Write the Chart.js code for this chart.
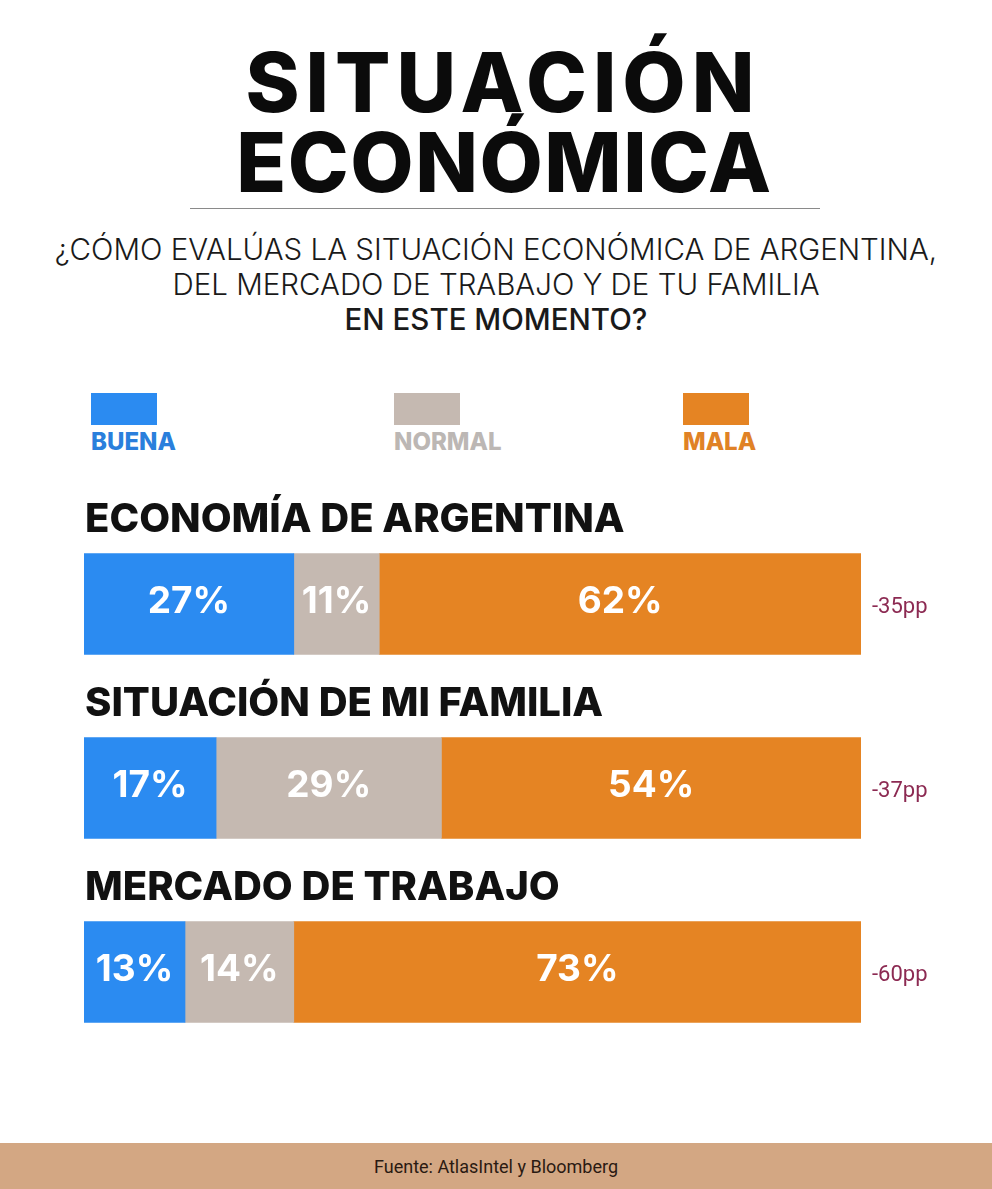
<!DOCTYPE html>
<html lang="es">
<head>
<meta charset="utf-8">
<script src="https://cdn.jsdelivr.net/npm/chart.js@4.4.1/dist/chart.umd.min.js"></script>
<style>
  html, body { margin: 0; padding: 0; background: #ffffff; }
  body { width: 992px; height: 1189px; position: relative; overflow: hidden; font-family: Inter, "Open Sans", sans-serif; }
  .title { position: absolute; left: 0; width: 992px; text-align: center; font-weight: 800; font-size: 82px; line-height: 80px; color: #0b0b0b; white-space: nowrap; }
  .t1 { top: 43px; left: 4px; letter-spacing: 6px; text-indent: 6px; }
  .t2 { top: 123px; left: 8px; letter-spacing: 1.5px; text-indent: 1px; }
  .rule { position: absolute; left: 190px; width: 630px; top: 208px; height: 0; border-top: 1px solid #8a8a8a; }
  .sub { position: absolute; left: 0; width: 992px; text-align: center; font-size: 29.5px; line-height: 35px; color: #1a1a1a; top: 232px; font-weight: 300; }
  .sub b { font-weight: 500; }
  .legend { position: absolute; top: 393px; left: 0; width: 992px; height: 70px; }
  .leg { position: absolute; top: 0; }
  .leg .box { width: 66px; height: 32px; }
  .leg .lab { font-weight: 800; font-size: 24px; line-height: 24px; margin-top: 5px; }
  #chartWrap { position: absolute; left: 0; top: 480px; width: 992px; height: 600px; }
  .footer { position: absolute; left: 0; top: 1143px; width: 992px; height: 46px; background: #d3a783; text-align: center; font-family: Roboto, sans-serif; font-size: 18px; line-height: 48px; color: #2a1a12; }
</style>
</head>
<body>
<div class="title t1">SITUACIÓN</div>
<div class="title t2">ECONÓMICA</div>
<div class="rule"></div>
<div class="sub">¿CÓMO EVALÚAS LA SITUACIÓN ECONÓMICA DE ARGENTINA,<br>DEL MERCADO DE TRABAJO Y DE TU FAMILIA<br><b>EN ESTE MOMENTO?</b></div>
<div class="legend" id="legend"></div>
<div id="chartWrap"><canvas id="c" width="992" height="600"></canvas></div>
<div class="footer">Fuente: AtlasIntel y Bloomberg</div>
<script>
// ---- data ----
const categories = ["ECONOMÍA DE ARGENTINA", "SITUACIÓN DE MI FAMILIA", "MERCADO DE TRABAJO"];
const seriesNames = ["BUENA", "NORMAL", "MALA"];
const buena = [27, 17, 13];
const normal = [11, 29, 14];
const mala = [62, 54, 73];
const netChange = ["-35pp", "-37pp", "-60pp"];

// ---- styles ----
const barColors = ["#2b8bf1", "#c5b9b1", "#e58423"];
const legendTextColors = ["#2a7fdc", "#bcb7b4", "#e08226"];
const legendLeft = [91, 394, 683];

// legend
const legendEl = document.getElementById('legend');
seriesNames.forEach((n, i) => {
  const d = document.createElement('div');
  d.className = 'leg';
  d.style.left = legendLeft[i] + 'px';
  d.innerHTML = '<div class="box" style="background:' + barColors[i] + '"></div><div class="lab" style="color:' + legendTextColors[i] + '">' + n + '</div>';
  legendEl.appendChild(d);
});

const seriesValues = [buena, normal, mala];

const annotPlugin = {
  id: 'annot',
  afterDatasetsDraw(chart) {
    const ctx = chart.ctx;
    ctx.save();
    // values inside bars
    chart.data.datasets.forEach((ds, di) => {
      const meta = chart.getDatasetMeta(di);
      meta.data.forEach((el, i) => {
        const cx = (el.x + el.base) / 2;
        ctx.font = '700 37px Inter';
        ctx.fillStyle = '#ffffff';
        ctx.textAlign = 'center';
        ctx.textBaseline = 'middle';
        ctx.fillText(ds.data[i] + '%', cx, el.y - 2);
      });
    });
    const meta0 = chart.getDatasetMeta(0);
    meta0.data.forEach((el, i) => {
      const top = el.y - el.height / 2;
      ctx.font = '800 40px Inter';
      ctx.fillStyle = '#111111';
      ctx.textAlign = 'left';
      ctx.textBaseline = 'alphabetic';
      ctx.fillText(categories[i], 85, top - 22);
      ctx.font = '400 22px Roboto';
      ctx.fillStyle = '#8c2a52';
      ctx.textBaseline = 'middle';
      ctx.fillText(netChange[i], chart.chartArea.right + 11, el.y + 3);
    });
    ctx.restore();
  }
};

new Chart(document.getElementById('c'), {
  type: 'bar',
  data: {
    labels: categories,
    datasets: seriesNames.map((n, i) => ({
      label: n,
      data: seriesValues[i],
      backgroundColor: barColors[i],
      borderWidth: 0,
      barThickness: 101
    }))
  },
  options: {
    indexAxis: 'y',
    responsive: false,
    animation: false,
    layout: { padding: { left: 84, right: 131, top: 32, bottom: 16 } },
    scales: {
      x: { stacked: true, min: 0, max: 100, display: false },
      y: { stacked: true, display: false }
    },
    plugins: { legend: { display: false }, tooltip: { enabled: false } }
  },
  plugins: [annotPlugin]
});
</script>
</body>
</html>
